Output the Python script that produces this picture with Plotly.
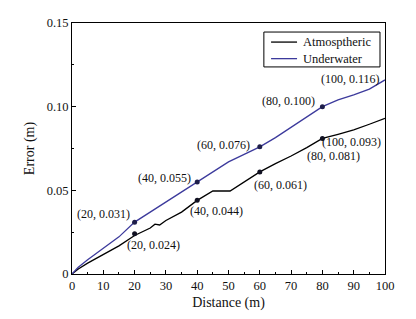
import plotly.graph_objects as go

# Curve data (distance in m, error in m)
dist_u = [0, 2, 5, 10, 15, 20, 25, 30, 35, 40, 45, 50, 55, 60, 65, 70, 75, 80, 85, 90, 95, 100]
err_u = [0.0, 0.004, 0.0085, 0.0155, 0.0222, 0.031, 0.037, 0.0435, 0.049, 0.055, 0.0615, 0.067, 0.0715, 0.076,
         0.0815, 0.0875, 0.094, 0.100, 0.104, 0.107, 0.1105, 0.116]

dist_a = [0, 2, 5, 10, 15, 20, 25, 26.5, 28, 30, 35, 40, 45, 50.5, 55, 60, 65, 70, 75, 80, 85, 90, 95, 100]
err_a = [0.0, 0.003, 0.0065, 0.0115, 0.0168, 0.023, 0.0275, 0.0298, 0.0293, 0.032, 0.037, 0.044, 0.0496,
         0.0496, 0.055, 0.061, 0.066, 0.0705, 0.0755, 0.081, 0.0835, 0.0862, 0.0895, 0.093]

# Marked points
mark_x = [20, 40, 60, 80]
mark_u = [0.031, 0.055, 0.076, 0.100]
mark_a = [0.024, 0.044, 0.061, 0.081]

# Annotated labels
label_x = [20, 20, 40, 40, 60, 60, 80, 80, 100, 100]
label_y = [0.031, 0.024, 0.055, 0.044, 0.076, 0.061, 0.100, 0.081, 0.093, 0.116]

series_names = ["Atmosptheric", "Underwater"]

x_ticks = [0, 10, 20, 30, 40, 50, 60, 70, 80, 90, 100]
y_ticks = [0, 0.05, 0.10, 0.15]
y_ticktext = ["0", "0.05", "0.10", "0.15"]

FONT = "Liberation Serif"
BLUE = "#3c3a9c"
colors = ["black", BLUE]

fig = go.Figure()
fig.add_trace(go.Scatter(x=dist_a, y=err_a, mode="lines", name=series_names[0],
                         line=dict(color=colors[0], width=1.3)))
fig.add_trace(go.Scatter(x=dist_u, y=err_u, mode="lines", name=series_names[1],
                         line=dict(color=colors[1], width=1.3)))
fig.add_trace(go.Scatter(x=mark_x, y=mark_u, mode="markers", showlegend=False,
                         marker=dict(color="#1e1e4a", size=5)))
fig.add_trace(go.Scatter(x=mark_x, y=mark_a, mode="markers", showlegend=False,
                         marker=dict(color="#111122", size=5)))

# (xanchor, xshift, yshift) per label
offsets = [("right", -3, 8), ("left", -10, -11), ("right", -4, 4), ("left", -9, -11),
           ("right", -8, 2), ("left", -8, -13), ("right", -5, 6), ("left", -17, -18),
           ("right", -2, -24), ("right", -3, 1)]
for lx, ly, (xa, xs, ys) in zip(label_x, label_y, offsets):
    fig.add_annotation(x=lx, y=ly, xref="x", yref="y", text=f"({lx}, {ly:.3f})",
                       showarrow=False, xanchor=xa, yanchor="middle", xshift=xs, yshift=ys,
                       font=dict(family=FONT, size=12, color="#111"))

# Compact legend box (drawn in paper coordinates)
fig.add_shape(type="rect", xref="paper", yref="paper", x0=0.613, x1=0.984, y0=0.825, y1=0.964,
              line=dict(color="black", width=1), fillcolor="white", layer="above")
for i, (nm, col) in enumerate(zip(series_names, colors)):
    yy = 0.924 - i * 0.066
    fig.add_shape(type="line", xref="paper", yref="paper", x0=0.636, x1=0.719, y0=yy, y1=yy,
                  line=dict(color=col, width=1.3), layer="above")
    fig.add_annotation(xref="paper", yref="paper", x=0.733, y=yy, text=nm, showarrow=False,
                       xanchor="left", yanchor="middle",
                       font=dict(family=FONT, size=12.5, color="#111"))

axis_common = dict(showgrid=False, zeroline=False, showline=True, linecolor="black", linewidth=1,
                   mirror=True, ticks="inside", ticklen=4, tickcolor="black", tickwidth=1,
                   automargin=False,
                   tickfont=dict(family=FONT, size=12.5, color="#111"))

fig.update_xaxes(range=[0, 100], tickvals=x_ticks,
                 minor=dict(dtick=5, ticks="inside", ticklen=2, tickcolor="black"),
                 title=dict(text="Distance (m)", font=dict(family=FONT, size=14, color="#111"), standoff=8),
                 **axis_common)
fig.update_yaxes(range=[0, 0.15], tickvals=y_ticks, ticktext=y_ticktext,
                 minor=dict(dtick=0.025, ticks="inside", ticklen=2, tickcolor="black"),
                 title=dict(text="Error (m)", font=dict(family=FONT, size=14, color="#111"), standoff=8),
                 **axis_common)

# page body has an 8px margin, so the figure is offset by 8px
fig.update_layout(
    width=400, height=303,
    margin=dict(l=64, r=23, t=15, b=37),
    plot_bgcolor="white", paper_bgcolor="white",
    showlegend=False,
)

fig.write_html("out.html")
